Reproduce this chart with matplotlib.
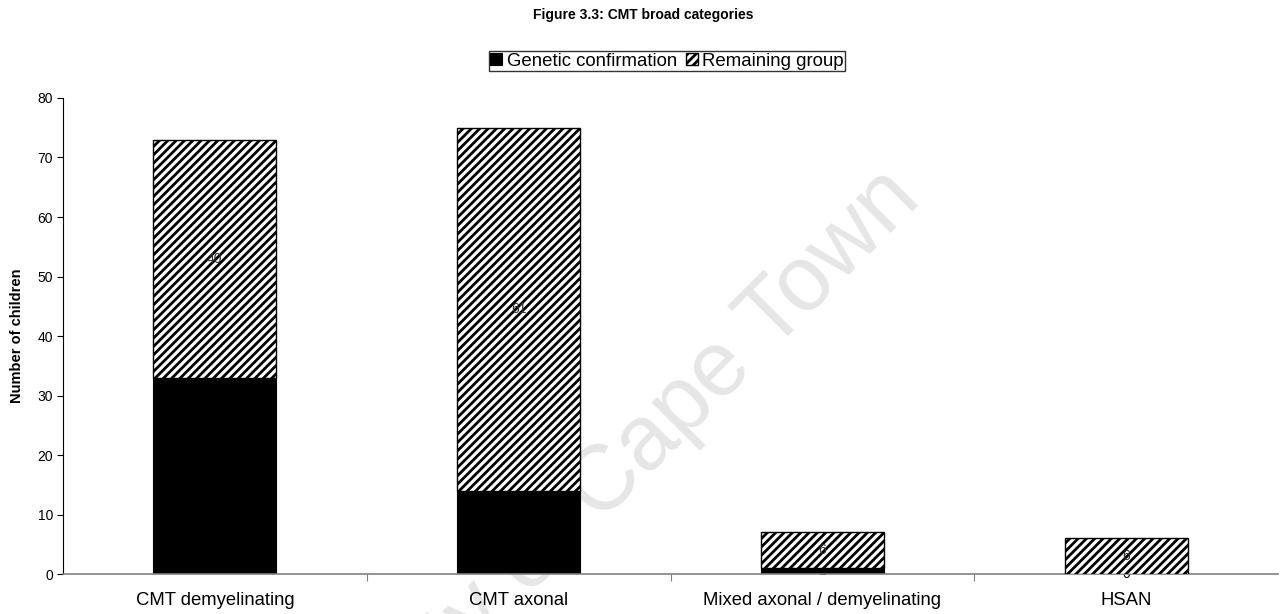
import matplotlib
matplotlib.use('Agg')
import matplotlib.pyplot as plt
import numpy as np

plt.rcParams['font.family'] = ['Liberation Sans', 'DejaVu Sans']
plt.rcParams['hatch.linewidth'] = 2.0

categories = ['CMT demyelinating', 'CMT axonal', 'Mixed axonal / demyelinating', 'HSAN']
genetic = [33, 14, 1, 0]
remaining = [40, 61, 6, 6]

fig = plt.figure(figsize=(12.85, 6.14), dpi=100)
ax = fig.add_axes([0.049, 0.0651, 0.9456, 0.7753])
ax.patch.set_visible(False)

x = np.arange(len(categories))
w = 0.405

# watermark
ax.text(923 / 1285, 1 - 201 / 614, 'University of Cape Town', transform=fig.transFigure,
        fontsize=66, color='#e6e6e6', rotation=45, rotation_mode='anchor',
        ha='right', va='baseline', zorder=0, clip_on=False)

b1 = ax.bar(x, genetic, w, color='black', edgecolor='black', linewidth=0.8,
            label='Genetic confirmation', zorder=2)
for xi, v in zip(x, genetic):
    ax.text(xi, v / 2, str(v), ha='center', va='center', fontsize=10, color='black', zorder=2)

b2 = ax.bar(x, remaining, w, bottom=genetic, color='white', edgecolor='black',
            hatch='////', linewidth=1.0, label='Remaining group', zorder=3)
for xi, g, v in zip(x, genetic, remaining):
    ax.text(xi, g + v / 2, str(v), ha='center', va='center', fontsize=10, color='#333333', zorder=4)

ax.set_xlim(-0.5, len(categories) - 0.5)
ax.set_ylim(0, 80)
ax.set_yticks(np.arange(0, 81, 10))
ax.tick_params(axis='y', labelsize=10, length=4, width=0.8, pad=3)

ax.set_xticks(x)
ax.set_xticklabels(categories, fontsize=13.3)
ax.set_xticks(np.arange(0.5, len(categories) - 0.5, 1), minor=True)
ax.tick_params(axis='x', which='major', length=0, pad=13)
ax.tick_params(axis='x', which='minor', length=5, width=0.8, color='#808080')

for s in ['top', 'right']:
    ax.spines[s].set_visible(False)
ax.spines['bottom'].set_color('#808080')
ax.spines['bottom'].set_linewidth(1.2)
ax.spines['left'].set_linewidth(0.8)

ax.set_ylabel('Number of children', fontsize=10.5, fontweight='bold', labelpad=10)

fig.text(643 / 1285, 1 - 15 / 614, 'Figure 3.3: CMT broad categories', ha='center', va='center',
         fontsize=10, fontweight='bold')

leg = fig.legend(handles=[b1, b2], loc='center', bbox_to_anchor=(667 / 1285, 1 - 61 / 614),
                 ncol=2, fontsize=13.4, frameon=True, fancybox=False, edgecolor='black',
                 handlelength=0.65, handleheight=0.65, handletextpad=0.25, columnspacing=0.45,
                 borderpad=0.08, borderaxespad=0)
leg.get_frame().set_linewidth(1.0)

fig.savefig('out.png', dpi=100)
